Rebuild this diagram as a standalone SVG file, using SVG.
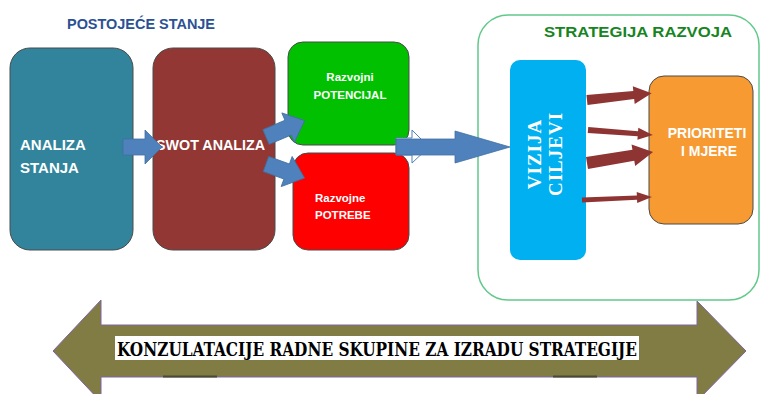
<svg xmlns="http://www.w3.org/2000/svg" width="761" height="394" viewBox="0 0 761 394">
<style>
.box{stroke:#4a4a4a;stroke-width:1}
.wt{fill:#ffffff;font-family:"Liberation Sans",Arial,sans-serif;font-weight:bold}
.blue{fill:#4f81bd;stroke:#41709f;stroke-width:0.8}
.mar{fill:#8e3533}
</style>
<rect width="761" height="394" fill="#ffffff"/>
<g id="container">
<rect x="478" y="15" width="281" height="285" rx="30" fill="none" stroke="#62c98a" stroke-width="1.5"/>
<text x="544" y="37" textLength="188" lengthAdjust="spacingAndGlyphs" font-family="Liberation Sans,Arial,sans-serif" font-weight="bold" font-size="15.5" fill="#17851f">STRATEGIJA RAZVOJA</text>
</g>
<g id="title">
<text x="67" y="29" textLength="148" lengthAdjust="spacingAndGlyphs" font-family="Liberation Sans,Arial,sans-serif" font-weight="bold" font-size="14" fill="#2b5195">POSTOJEĆE STANJE</text>
</g>
<g id="analiza">
<rect class="box" x="10" y="48" width="123" height="202" rx="20" fill="#31849b"/>
<text class="wt" font-size="15" x="20" y="150">ANALIZA</text>
<text class="wt" font-size="15" x="20" y="173">STANJA</text>
</g>
<g id="swot">
<rect class="box" x="153" y="48" width="122" height="202" rx="20" fill="#923734"/>
<text class="wt" font-size="14.3" x="156" y="150">SWOT ANALIZA</text>
</g>
<g id="potencijal">
<rect class="box" x="288" y="42" width="121" height="103" rx="15" fill="#00c000"/>
<text class="wt" font-size="11.5" x="350" y="81" text-anchor="middle">Razvojni</text>
<text class="wt" font-size="11.5" x="350" y="99" text-anchor="middle">POTENCIJAL</text>
</g>
<g id="potrebe">
<rect class="box" x="293" y="153" width="116" height="97" rx="15" fill="#ff0000"/>
<text class="wt" font-size="11.5" x="315" y="202">Razvojne</text>
<text class="wt" font-size="11.5" x="315" y="219">POTREBE</text>
</g>
<g id="vizija">
<rect x="510" y="60" width="76" height="200" rx="10" fill="#00b0f0"/>
<text transform="translate(541,154) rotate(-90)" text-anchor="middle" font-family="Liberation Serif,Times New Roman,serif" font-weight="bold" font-size="19" letter-spacing="1" fill="#ffffff">VIZIJA</text>
<text transform="translate(562,154) rotate(-90)" text-anchor="middle" font-family="Liberation Serif,Times New Roman,serif" font-weight="bold" font-size="19" letter-spacing="1" fill="#ffffff">CILJEVI</text>
</g>
<g id="prioriteti">
<rect class="box" x="649" y="76" width="104" height="148" rx="15" fill="#f79a31"/>
<text class="wt" font-size="14" x="707" y="138" text-anchor="middle">PRIORITETI</text>
<text class="wt" font-size="14" x="709" y="156" text-anchor="middle">I MJERE</text>
</g>
<g id="connectors">
<polygon class="blue" points="123,139 145,139 145,130 162,147 145,164 145,155 123,155"/>
<polygon class="blue" transform="translate(266,137) rotate(-23)" points="0,-8 24,-8 24,-16 42,0 24,16 24,8 0,8"/>
<polygon class="blue" transform="translate(266,164) rotate(20)" points="0,-8 22,-8 22,-16 41,0 22,16 22,8 0,8"/>
<polygon points="396,138 412,138 412,130 429,147 412,163 412,155 396,155" fill="#ffffff" stroke="#4f81bd" stroke-width="1"/>
<polygon class="blue" points="396,139 455,139 455,131 510,147 455,163 455,155 396,155"/>
<polygon class="mar" transform="translate(587,100) rotate(-6)" points="0,-5 47,-4 47,-9 65,0 47,9 47,4 0,5"/>
<polygon class="mar" transform="translate(588,130) rotate(4.4)" points="0,-3 50,-2.5 50,-6 65,0 50,6 50,2.5 0,3"/>
<polygon class="mar" transform="translate(587,163) rotate(-9.5)" points="0,-6 47,-5.5 47,-11 67,0 47,11 47,5.5 0,6"/>
<polygon class="mar" transform="translate(582,200) rotate(-2.5)" points="0,-2.5 55,-2.2 55,-5.5 70,0 55,5.5 55,2.2 0,2.5"/>
</g>
<g id="konzultacije">
<polygon points="53,351 101,300 101,325 697,325 697,301 746,351 697,401 697,377 101,377 101,402" fill="#807c43" stroke="#8064a2" stroke-width="1"/>
<rect x="163" y="375.5" width="54" height="2" fill="#4a4a30"/>
<rect x="553" y="375.5" width="44" height="2" fill="#4a4a30"/>
<rect x="115" y="336" width="524" height="24" fill="#ffffff"/>
<text x="117" y="356" textLength="520" lengthAdjust="spacingAndGlyphs" font-family="DejaVu Serif Condensed,DejaVu Serif,serif" font-weight="bold" font-size="18" fill="#000000">KONZULATACIJE RADNE SKUPINE ZA IZRADU STRATEGIJE</text>
</g>
</svg>
